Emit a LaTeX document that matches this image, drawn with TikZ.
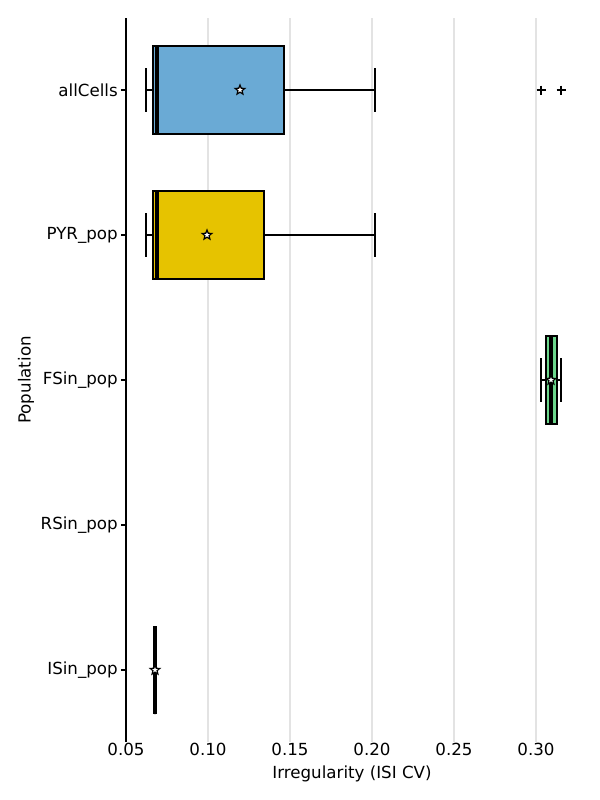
\documentclass[tikz,border=0pt]{standalone}
\usepackage{fontspec}
\setmainfont{DejaVu Sans}
\usetikzlibrary{shapes.geometric}
\definecolor{boxblue}{HTML}{6AAAD5}
\definecolor{boxyellow}{HTML}{E6C300}
\definecolor{boxgreen}{HTML}{6CD68C}
\definecolor{gridgray}{HTML}{E3E3E3}

\tikzset{
  boxbody/.style={draw=black, line width=2.1pt},
  whisker/.style={line width=2.1pt},
  medianline/.style={line width=3pt},
  meanstar/.style={star, star points=5, star point ratio=2.3, draw=black, fill=white,
                   line width=0.9pt, minimum size=7.5pt, inner sep=0pt},
  flier/.style={line width=1.1pt},
  ticklabel/.style={font=\fontsize{12.5}{15}\selectfont, inner sep=0pt}
}

\begin{document}
\begin{tikzpicture}[x=0.75pt, y=-0.75pt]
    \useasboundingbox[fill=white] (0,0) rectangle (600,800);

    % grid and axis
    \foreach \g in {208,290,372,454,536} {\draw[gridgray, line width=0.8pt] (\g,18) -- (\g,742);};
    \draw[line width=0.8pt] (126,18) -- (126,742);

    % x tick labels
    \foreach \v/\p in {0.05/126,0.10/208,0.15/290,0.20/372,0.25/454,0.30/536}
        {\node[ticklabel] (xt-\p) at (\p,749) {\v};};

    % populations: name / y / q1 / q3 / median / low / high / mean / colour
    \foreach \n/\y/\qa/\qb/\md/\wl/\wh/\mn/\col in {%
        allCells/90/153/284/157/146/375/240/boxblue,
        PYR_pop/235/153/264/157/146/375/207/boxyellow,
        FSin_pop/380/546/557/551/541/561/551/boxgreen,
        RSin_pop/525/0/0/0/0/0/0/white,
        ISin_pop/670/155/155/155/155/155/155/white} {
        \draw[line width=0.8pt] (121,\y) -- (126,\y);
        \node[ticklabel, anchor=east] (yt-\y) at (118,\y) {\detokenize\expandafter{\n}};
        \ifnum\qa>0
            \draw[whisker] (\wl,\y) -- (\qa,\y) (\qb,\y) -- (\wh,\y)
                           (\wl,\y-22) -- (\wl,\y+22) (\wh,\y-22) -- (\wh,\y+22);
            \filldraw[boxbody, fill=\col] (\qa,\y-44) rectangle (\qb,\y+44);
            \draw[medianline] (\md,\y-44) -- (\md,\y+44);
            \node[meanstar] (mean-\y) at (\mn,\y) {};
        \fi
    }

    % outliers of allCells
    \foreach \f in {541,561} {\draw[flier] (\f-4.5,90) -- (\f+4.5,90) (\f,85.5) -- (\f,94.5);};

    % axis titles
    \node[ticklabel] (xlabel) at (352,774) {Irregularity (ISI CV)};
    \node[ticklabel, rotate=90] (ylabel) at (26,380) {Population};
\end{tikzpicture}
\end{document}
